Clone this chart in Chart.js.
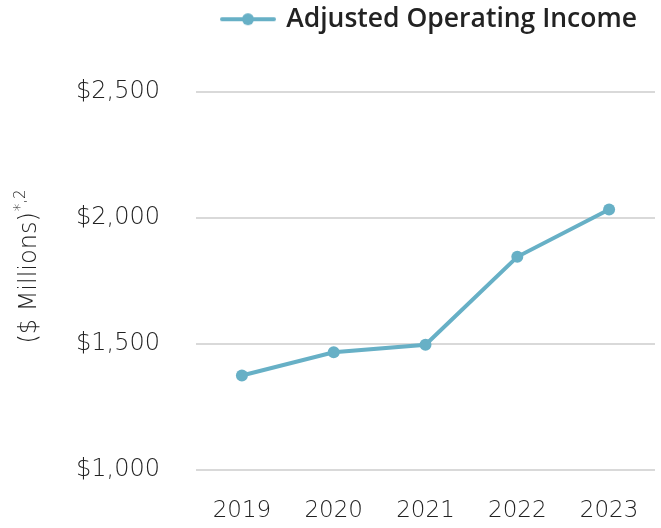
<!DOCTYPE html>
<html>
<head>
<meta charset="utf-8">
<script src="https://cdn.jsdelivr.net/npm/chart.js@4"></script>
<style>
  html, body { margin: 0; padding: 0; background: #fff; }
  #wrap { width: 661px; height: 528px; }
</style>
</head>
<body>
<div id="wrap"><canvas id="income"></canvas></div>
<script>
var years = ["2019", "2020", "2021", "2022", "2023"];
var adjustedIncome = [1375, 1467, 1497, 1846, 2034];
var yTicks = [1000, 1500, 2000, 2500];
var seriesName = "Adjusted Operating Income";

var teal = "#67b0c6";
var lightFont = "DejaVu Sans";

// legend marker: short line with a dot in the middle
var marker = document.createElement("canvas");
marker.width = 56;
marker.height = 14;
var mctx = marker.getContext("2d");
mctx.strokeStyle = teal;
mctx.lineWidth = 4;
mctx.lineCap = "round";
mctx.beginPath();
mctx.moveTo(2, 7);
mctx.lineTo(54, 7);
mctx.stroke();
mctx.fillStyle = teal;
mctx.beginPath();
mctx.arc(28, 7, 6, 0, Math.PI * 2);
mctx.fill();

// rotated y title with a raised "*,2"
var yTitle = {
  id: "yTitle",
  afterDraw: function (chart) {
    var c = chart.ctx;
    var area = chart.chartArea;
    c.save();
    c.translate(30, (area.top + area.bottom) / 2 - 14);
    c.rotate(-Math.PI / 2);
    c.fillStyle = "#222";
    c.textBaseline = "middle";
    c.textAlign = "left";
    var main = "($ Millions)";
    var sup = "*,2";
    c.font = "200 24px '" + lightFont + "'";
    var w1 = c.measureText(main).width;
    c.font = "200 15px '" + lightFont + "'";
    var w2 = c.measureText(sup).width;
    var x0 = -(w1 + w2) / 2;
    c.font = "200 24px '" + lightFont + "'";
    c.fillText(main, x0, 0);
    c.font = "200 15px '" + lightFont + "'";
    c.fillText(sup, x0 + w1 + 1, -9);
    c.restore();
  }
};

var legendGap = {
  id: "legendGap",
  beforeInit: function (chart) {
    var fit = chart.legend.fit;
    chart.legend.fit = function () {
      fit.call(this);
      this.height = 92;
    };
  },
  afterLayout: function (chart) {
    chart.legend.right -= 13;
  }
};

var ctx = document.getElementById("income").getContext("2d");
var chart = new Chart(ctx, {
  type: "line",
  data: {
    labels: years,
    datasets: [
      {
        label: seriesName,
        data: adjustedIncome,
        borderColor: teal,
        backgroundColor: teal,
        borderWidth: 4,
        pointRadius: 6,
        pointBackgroundColor: teal,
        pointBorderWidth: 0,
        tension: 0,
      },
    ],
  },
  options: {
    responsive: true,
    maintainAspectRatio: false,
    animation: false,
    layout: { padding: { left: 0, right: 5, top: 0, bottom: 4 } },
    plugins: {
      legend: {
        align: "end",
        labels: {
          usePointStyle: true,
          pointStyle: marker,
          pointStyleWidth: 50,
          padding: 6,
          color: "#222",
          font: { family: "Open Sans", size: 26.5, weight: 600 },
        },
      },
      tooltip: { enabled: false },
    },
    scales: {
      x: {
        offset: true,
        grid: { display: false, drawTicks: false },
        border: { display: false },
        afterFit: function (axis) {
          axis.height = 54;
          axis.paddingLeft = 0;
          axis.paddingRight = 0;
        },
        ticks: {
          padding: 27,
          color: "#222",
          maxRotation: 0,
          font: { family: lightFont, size: 23, weight: 200 },
        },
      },
      y: {
        min: 1000,
        max: 2500,
        afterBuildTicks: function (axis) {
          axis.ticks = yTicks.map(function (v) { return { value: v }; });
        },
        afterFit: function (axis) {
          axis.width = 196;
        },
        grid: { color: "#d9d9d9", lineWidth: 2, drawTicks: false },
        border: { display: false },
        ticks: {
          padding: 36,
          color: "#222",
          font: { family: lightFont, size: 24, weight: 200 },
          callback: function (v) { return "$" + v.toLocaleString("en-US"); },
        },
      },
    },
  },
  plugins: [yTitle, legendGap],
});
</script>
</body>
</html>
